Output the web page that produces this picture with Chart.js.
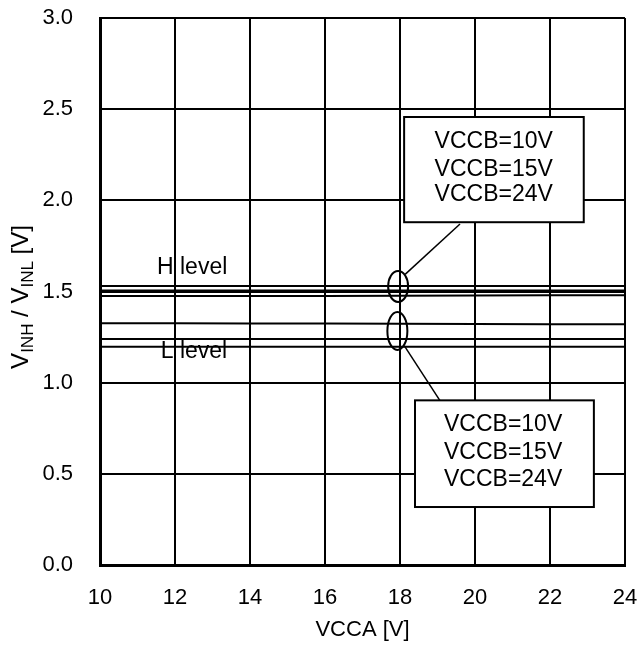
<!DOCTYPE html>
<html>
<head>
<meta charset="utf-8">
<script src="https://cdn.jsdelivr.net/npm/chart.js@4.4.0/dist/chart.umd.min.js"></script>
<style>
  html, body { margin: 0; padding: 0; background: #fff; }
  #wrap { width: 643px; height: 648px; }
</style>
</head>
<body>
<div id="wrap"><canvas id="c" width="643" height="648"></canvas></div>
<script>
// Input threshold voltage vs. VCCA, for three VCCB supplies
const vcca = [10, 12, 14, 16, 18, 20, 22, 24];

// H level (V_INH)
const vinhVccb10 = [1.53, 1.53, 1.53, 1.53, 1.53, 1.53, 1.53, 1.53];
const vinhVccb15 = [1.505, 1.505, 1.505, 1.505, 1.505, 1.505, 1.505, 1.505];
const vinhVccb24 = [1.476, 1.476, 1.476, 1.476, 1.477, 1.478, 1.479, 1.48];

// L level (V_INL)
const vinlVccb10 = [1.326, 1.326, 1.325, 1.324, 1.323, 1.322, 1.321, 1.320];
const vinlVccb15 = [1.24, 1.24, 1.24, 1.24, 1.24, 1.24, 1.24, 1.239];
const vinlVccb24 = [1.197, 1.197, 1.197, 1.197, 1.197, 1.197, 1.197, 1.197];

const xTicks = [10, 12, 14, 16, 18, 20, 22, 24];
const yTicks = [0.0, 0.5, 1.0, 1.5, 2.0, 2.5, 3.0];
const calloutLines = ['VCCB=10V', 'VCCB=15V', 'VCCB=24V'];

const FONT = "'Liberation Sans', Arial, sans-serif";

function series(label, values) {
  return {
    label,
    data: vcca.map((x, i) => ({ x, y: values[i] })),
    borderColor: '#000',
    borderWidth: 2,
    pointRadius: 0,
    fill: false,
    tension: 0
  };
}

const notes = {
  id: 'notes',
  beforeDatasetsDraw(chart) {
    const ctx = chart.ctx;
    const xs = chart.scales.x, ys = chart.scales.y;
    ctx.save();
    ctx.fillStyle = '#000';
    ctx.font = '23px ' + FONT;
    ctx.textBaseline = 'middle';
    ctx.textAlign = 'left';
    ctx.fillText('H level', xs.getPixelForValue(11.52), ys.getPixelForValue(1.63));
    ctx.fillText('L level', xs.getPixelForValue(11.62), ys.getPixelForValue(1.17));
    ctx.restore();
  },
  afterDatasetsDraw(chart) {
    const ctx = chart.ctx;
    const xs = chart.scales.x, ys = chart.scales.y;
    const px = v => xs.getPixelForValue(v);
    const py = v => ys.getPixelForValue(v);
    ctx.save();
    ctx.strokeStyle = '#000';
    ctx.lineWidth = 2;

    // Ellipses grouping the curves at VCCA = 18 V
    const hx = px(17.95), hy = py(1.528);
    const lx = px(17.93), ly = py(1.284);
    ctx.beginPath(); ctx.ellipse(hx, hy, 10, 15.5, 0, 0, Math.PI * 2); ctx.stroke();
    ctx.beginPath(); ctx.ellipse(lx, ly, 10, 19, 0, 0, Math.PI * 2); ctx.stroke();

    // Leader lines
    ctx.lineWidth = 1.5;
    ctx.beginPath();
    ctx.moveTo(hx + 7, hy - 12);
    ctx.lineTo(px(19.6), py(1.87));
    ctx.stroke();
    ctx.beginPath();
    ctx.moveTo(lx + 7, ly + 15);
    ctx.lineTo(px(19.07), py(0.90));
    ctx.stroke();

    // Callout boxes
    function box(x0, y0, x1, y1, cx, rows) {
      const L = px(x0), R = px(x1), T = py(y0), B = py(y1);
      ctx.fillStyle = '#fff';
      ctx.fillRect(L, T, R - L, B - T);
      ctx.lineWidth = 2;
      ctx.strokeRect(L, T, R - L, B - T);
      ctx.fillStyle = '#000';
      ctx.font = '23px ' + FONT;
      ctx.textAlign = 'center';
      ctx.textBaseline = 'middle';
      calloutLines.forEach((t, i) => ctx.fillText(t, px(cx), py(rows[i])));
    }
    box(18.11, 2.457, 22.90, 1.88, 20.50, [2.32, 2.17, 2.03]);
    box(18.40, 0.903, 23.17, 0.318, 20.75, [0.77, 0.615, 0.468]);
    ctx.restore();
  },
  afterDraw(chart) {
    // Axis titles with subscripts
    const ctx = chart.ctx;
    const area = chart.chartArea;
    ctx.save();
    ctx.fillStyle = '#000';
    ctx.textBaseline = 'alphabetic';

    ctx.font = '22px ' + FONT;
    ctx.textAlign = 'center';
    ctx.fillText('VCCA [V]', (area.left + area.right) / 2, 636);

    const parts = [
      ['V', 24, 0], ['INH', 17, 5], [' / V', 24, 0], ['INL', 17, 5], [' [V]', 24, 0]
    ];
    let total = 0;
    parts.forEach(p => { ctx.font = p[1] + 'px ' + FONT; total += ctx.measureText(p[0]).width; });
    ctx.translate(28, 297);
    ctx.rotate(-Math.PI / 2);
    let x = -total / 2;
    ctx.textAlign = 'left';
    parts.forEach(p => {
      ctx.font = p[1] + 'px ' + FONT;
      ctx.fillText(p[0], x, p[2]);
      x += ctx.measureText(p[0]).width;
    });
    ctx.restore();
  }
};

new Chart(document.getElementById('c'), {
  type: 'line',
  data: {
    datasets: [
      series('H VCCB=10V', vinhVccb10),
      series('H VCCB=15V', vinhVccb15),
      series('H VCCB=24V', vinhVccb24),
      series('L VCCB=10V', vinlVccb10),
      series('L VCCB=15V', vinlVccb15),
      series('L VCCB=24V', vinlVccb24)
    ]
  },
  options: {
    responsive: false,
    animation: false,
    layout: { padding: { top: 18, right: 18, left: 0, bottom: 0 } },
    plugins: { legend: { display: false }, tooltip: { enabled: false } },
    scales: {
      x: {
        type: 'linear',
        min: 10, max: 24,
        afterBuildTicks: s => { s.ticks = xTicks.map(v => ({ value: v })); },
        afterFit: s => { s.height = 83; s.paddingLeft = 0; s.paddingRight = 0; },
        grid: { color: '#000', lineWidth: 2, drawTicks: false },
        border: { color: '#000', width: 3 },
        ticks: {
          color: '#000', padding: 20,
          font: { family: FONT, size: 22 },
          maxRotation: 0,
          callback: v => String(v)
        }
      },
      y: {
        type: 'linear',
        min: 0, max: 3,
        afterBuildTicks: s => { s.ticks = yTicks.map(v => ({ value: v })); },
        afterFit: s => { s.width = 100; s.paddingTop = 0; s.paddingBottom = 0; },
        grid: { color: '#000', lineWidth: 2, drawTicks: false },
        border: { color: '#000', width: 3 },
        ticks: {
          color: '#000', padding: 27,
          font: { family: FONT, size: 22 },
          callback: v => Number(v).toFixed(1)
        }
      }
    }
  },
  plugins: [notes]
});
</script>
</body>
</html>
